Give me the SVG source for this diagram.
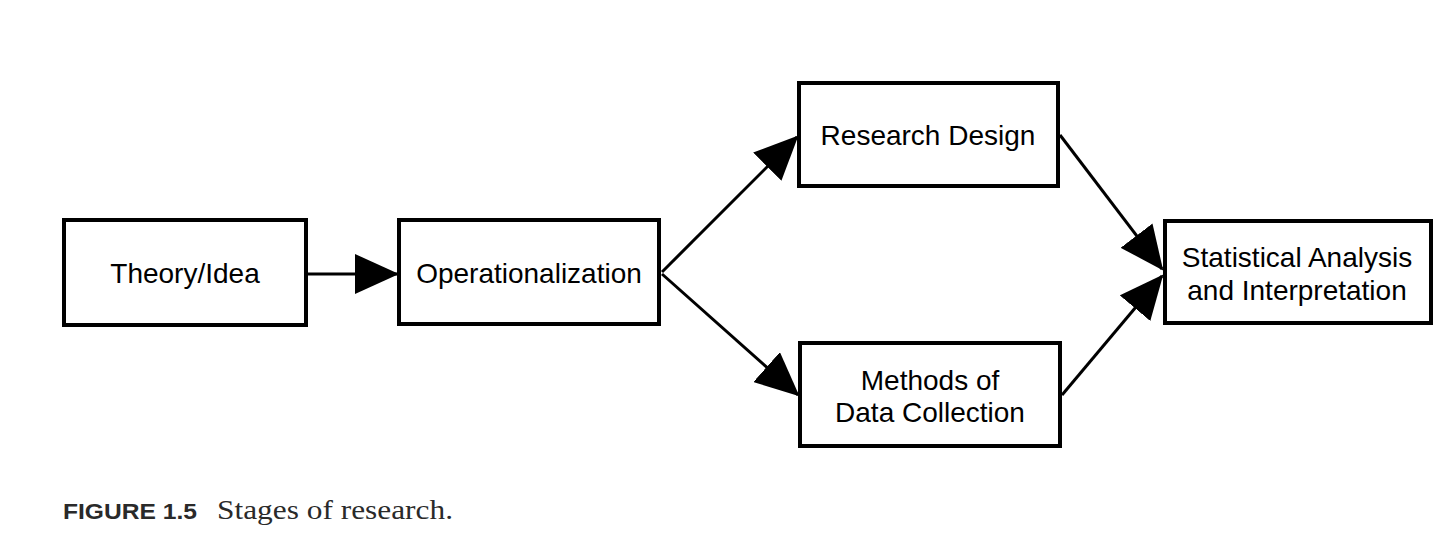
<svg xmlns="http://www.w3.org/2000/svg" width="1450" height="547" viewBox="0 0 1450 547">
<style>
.box{fill:#fff;stroke:#000;stroke-width:4}
.lbl{font-family:"Liberation Sans",Arial,sans-serif;font-size:28px;fill:#000;text-anchor:middle}
.edge{stroke:#000;stroke-width:3;fill:none;marker-end:url(#ah)}
</style>
<defs>
<marker id="ah" viewBox="0 0 44 40" refX="42" refY="20" markerWidth="44" markerHeight="40" markerUnits="userSpaceOnUse" orient="auto">
<path d="M0,0 L44,20 L0,40 z" fill="#000"/>
</marker>
</defs>
<rect width="1450" height="547" fill="#fff"/>
<g id="connectors">
<line class="edge" x1="308" y1="274" x2="397" y2="274"/>
<line class="edge" x1="662" y1="272" x2="797" y2="137"/>
<line class="edge" x1="662" y1="274" x2="798" y2="395"/>
<line class="edge" x1="1060" y1="135" x2="1162" y2="269"/>
<line class="edge" x1="1062" y1="395" x2="1162" y2="276"/>
</g>
<g id="theory">
<rect class="box" x="64" y="220" width="242" height="105"/>
<text class="lbl" x="185" y="283">Theory/Idea</text>
</g>
<g id="operationalization">
<rect class="box" x="399" y="220" width="260" height="104"/>
<text class="lbl" x="529" y="283">Operationalization</text>
</g>
<g id="research-design">
<rect class="box" x="799" y="83" width="259" height="103"/>
<text class="lbl" x="928" y="145">Research Design</text>
</g>
<g id="methods">
<rect class="box" x="800" y="343" width="260" height="103"/>
<text class="lbl" x="930" y="390">Methods of</text>
<text class="lbl" x="930" y="422">Data Collection</text>
</g>
<g id="statistical">
<rect class="box" x="1165" y="221" width="266" height="102"/>
<text class="lbl" x="1297" y="267">Statistical Analysis</text>
<text class="lbl" x="1297" y="300">and Interpretation</text>
</g>
<g id="caption">
<text x="63" y="519" font-family="'Liberation Sans',Arial,sans-serif" font-weight="bold" font-size="22" fill="#2a2a2a" textLength="134" lengthAdjust="spacingAndGlyphs">FIGURE 1.5</text>
<text x="217" y="519" font-family="'Liberation Serif',serif" font-size="27" fill="#2a2a2a" textLength="236" lengthAdjust="spacingAndGlyphs">Stages of research.</text>
</g>
</svg>
